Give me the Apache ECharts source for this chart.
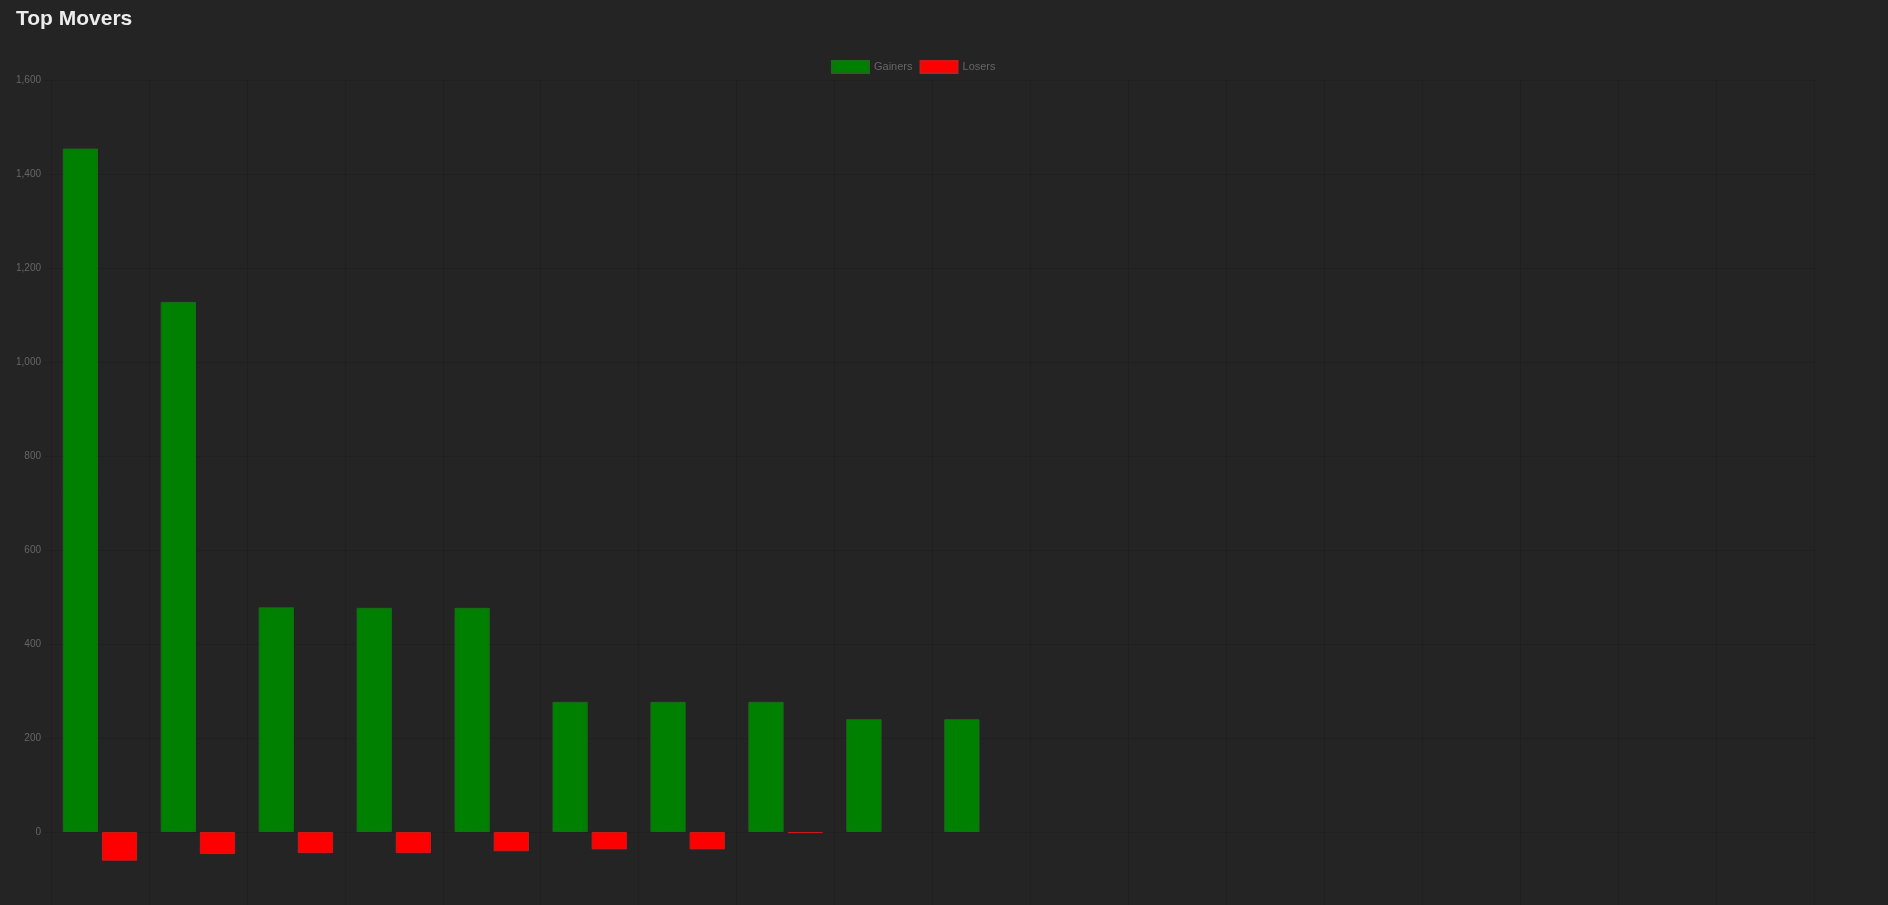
<!DOCTYPE html>
<html>
<head>
<meta charset="utf-8">
<script src="https://cdn.jsdelivr.net/npm/echarts@6/dist/echarts.min.js"></script>
<style>
html,body{margin:0;padding:0;background:#242424;overflow:hidden;}
#chart{width:1888px;height:1000px;}
</style>
</head>
<body>
<div id="chart"></div>
<script>
const categories = ['1','2','3','4','5','6','7','8','9','10','11','12','13','14','15','16','17','18'];
const gainers = [1454, 1128, 478, 477, 477, 277, 277, 277, 240, 240];
const losers = [-61, -47, -45, -45, -41, -37, -37, -2.5, null, null];
const yTicks = { min: -200, max: 1600, interval: 200 };

const FONT = '"Liberation Sans", Arial, sans-serif';
const chart = echarts.init(document.getElementById('chart'), null, { renderer: 'canvas' });
chart.setOption({
  backgroundColor: '#242424',
  animation: false,
  title: {
    text: 'Top Movers',
    left: 11,
    top: 4,
    textStyle: { color: '#ececec', fontSize: 21, fontWeight: 'bold', fontFamily: FONT }
  },
  legend: {
    left: 831,
    top: 60,
    padding: 0,
    itemWidth: 37,
    itemHeight: 12,
    itemGap: 7,
    icon: 'rect',
    textStyle: { color: '#666', fontSize: 11, fontFamily: FONT, lineHeight: 12 },
    data: ['Gainers', 'Losers']
  },
  grid: { left: 51, top: 80, right: 74, bottom: 74, containLabel: false },
  xAxis: {
    type: 'category',
    data: categories,
    boundaryGap: true,
    axisLine: { show: false },
    axisTick: { show: false },
    axisLabel: { show: false },
    splitLine: { show: true, lineStyle: { color: 'rgba(0,0,0,0.1)', width: 1 } }
  },
  yAxis: {
    type: 'value',
    min: yTicks.min,
    max: yTicks.max,
    interval: yTicks.interval,
    axisLine: { show: false },
    axisTick: { show: true, length: 8, lineStyle: { color: 'rgba(0,0,0,0.1)' } },
    axisLabel: {
      color: '#666', fontSize: 10, fontFamily: FONT, margin: 10,
      formatter: v => v.toLocaleString('en-US')
    },
    splitLine: { show: true, lineStyle: { color: 'rgba(0,0,0,0.1)', width: 1 } }
  },
  series: [
    {
      name: 'Gainers',
      type: 'bar',
      data: gainers,
      barCategoryGap: '24%',
      barGap: '11%',
      itemStyle: { color: '#008000', borderColor: '#1a6b1a', borderWidth: 1 }
    },
    {
      name: 'Losers',
      type: 'bar',
      data: losers,
      barCategoryGap: '24%',
      barGap: '11%',
      itemStyle: { color: '#ff0000', borderColor: '#cc1a1a', borderWidth: 1 }
    }
  ]
});
</script>
</body>
</html>
